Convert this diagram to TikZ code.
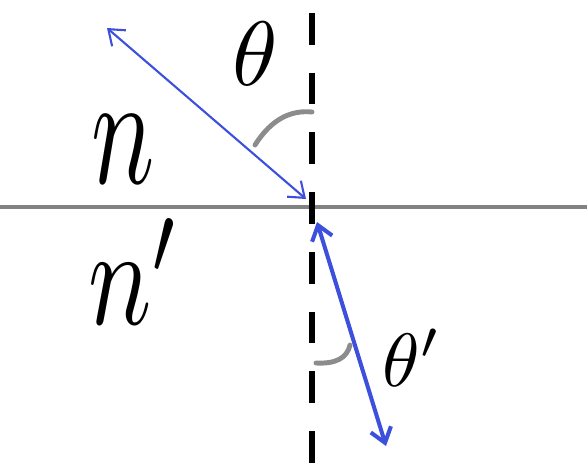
\documentclass[tikz,border=0pt]{standalone}
\usepackage{amsmath}
\usepackage{tikz}
\usetikzlibrary{arrows.meta}

\definecolor{raycol}{RGB}{60,80,220}
\definecolor{arccol}{RGB}{140,140,140}
\definecolor{planecol}{RGB}{130,130,130}

\begin{document}
\begin{tikzpicture}[x=0.02cm, y=-0.02cm,
        ray/.style={draw=raycol, {Straight Barb[length=8pt,width=12pt]}-{Straight Barb[length=8pt,width=12pt]}},
        anglearc/.style={draw=arccol, line width=2.8pt, line cap=round},
        lbl/.style={inner sep=0pt}]
        \useasboundingbox (0,0) rectangle (587,470);

        % interface and normal
        \coordinate (pl) at (0,207);
        \coordinate (pr) at (587,207);
        \coordinate (nt) at (312,13);
        \coordinate (nb) at (312,465);
        \draw[planecol, line width=2.8pt] (pl) -- (pr);
        \draw[black, line width=3pt, dash pattern=on 18pt off 16pt] (nt) -- (nb);

        % rays
        \coordinate (r1) at (107,28);
        \coordinate (r2) at (306,199);
        \coordinate (r3) at (317,222);
        \coordinate (r4) at (386,446);
        \draw[ray, line width=1.2pt] (r1) -- (r2);
        \draw[ray, line width=2.3pt] (r3) -- (r4);

        % angle marks
        \coordinate (a1) at (255,145);
        \coordinate (a2) at (312,112);
        \coordinate (b1) at (316,363);
        \coordinate (b2) at (350,345);
        \draw[anglearc] (a1) .. controls (272,118) and (292,110) .. (a2);
        \draw[anglearc] (b1) .. controls (336,364) and (347,358) .. (b2);

        % labels
        \node[lbl, scale=5.2] (th) at (255,54) {$\theta$};
        \node[lbl, scale=4.3] (thp) at (412,358) {$\theta'$};
        \node[lbl, xscale=6, yscale=9] (n1) at (123,149) {$n$};
        \node[lbl, xscale=6, yscale=8] (n2) at (135,272) {$n'$};
\end{tikzpicture}
\end{document}
